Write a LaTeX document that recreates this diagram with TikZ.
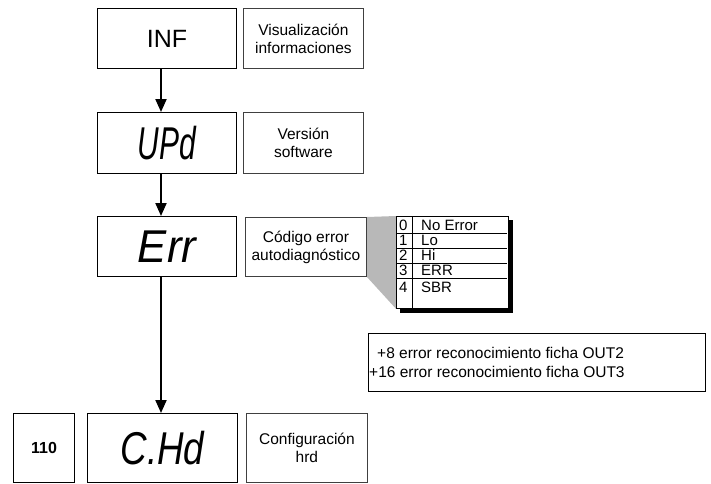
\documentclass[tikz,border=0pt]{standalone}
\usepackage{fontspec}
\usepackage{graphicx}
\setmainfont{Liberation Sans}
\usetikzlibrary{arrows.meta,backgrounds}
\tikzset{
  mainbox/.style={draw=black,line width=1pt,inner sep=0pt,anchor=north west},
  descbox/.style={draw=black!75,line width=0.8pt,inner sep=0pt,anchor=north west,align=center,
     font=\fontsize{15.5}{18}\selectfont},
  segtxt/.style={font=\fontsize{46}{46}\selectfont\itshape},
  arr/.style={line width=2pt,-{Triangle[length=13pt,width=11pt]}},
  tbltxt/.style={font=\fontsize{15}{15}\selectfont,anchor=base west,inner sep=0pt},
}
\begin{document}
\begin{tikzpicture}[x=1pt,y=-1pt]
\useasboundingbox (0,0) rectangle (711,483);
% main column
\node[mainbox,minimum width=139pt,minimum height=60pt] (inf) at (97,8) {};
\node[font=\fontsize{25}{25}\selectfont] (inft) at (inf.center) {INF};
\node[descbox,minimum width=120pt,minimum height=60pt] (vis) at (243,8) {Visualización\\informaciones};

\node[mainbox,minimum width=139pt,minimum height=61pt] (upd) at (97,112) {};
\node[segtxt] (updt) at (upd.center) {\scalebox{0.65}[1]{UPd}};
\node[descbox,minimum width=120pt,minimum height=61pt] (ver) at (243,112) {Versión\\software};

\node[mainbox,minimum width=139pt,minimum height=60pt] (err) at (97,216) {};
\node[segtxt] (errt) at (err.center) {\scalebox{0.95}[1]{Err}};
\node[descbox,minimum width=121pt,minimum height=59pt] (cod) at (245,217) {Código error\\autodiagnóstico};

\node[mainbox,minimum width=61pt,minimum height=69pt,font=\fontsize{16}{16}\selectfont\bfseries] (n110) at (13,413) {110};
\node[mainbox,minimum width=150pt,minimum height=69pt] (chd) at (87,413) {};
\node[segtxt] (chdt) at (chd.center) {\scalebox{0.8}[1]{C.Hd}};
\node[descbox,minimum width=121pt,minimum height=69pt] (conf) at (246,413) {Configuración\\hrd};

% arrows
\draw[arr] ([xshift=64pt]inf.south west) -- ([xshift=64pt]upd.north west);
\draw[arr] ([xshift=64pt]upd.south west) -- ([xshift=64pt]err.north west);
\draw[arr] ([xshift=64pt]err.south west) -- ([xshift=74pt]chd.north west);

% table
\node[draw=black,line width=0.8pt,fill=white,inner sep=0pt,anchor=north west,
      minimum width=112pt,minimum height=92pt] (tbl) at (396,216) {};
\begin{scope}[on background layer]
  \fill[black!28] (cod.north east) -- (tbl.north west) -- (tbl.south west) -- (cod.south east) -- cycle;
  \fill[black] ([shift={(4,4)}]tbl.north west) rectangle ([shift={(4,4)}]tbl.south east);
\end{scope}
\draw[line width=0.7pt] (412,216) -- (412,308);
\foreach \yy in {233,248,263,278} \draw[line width=0.7pt] (397,\yy) -- (507,\yy);
\node[tbltxt] (d0) at (399,230) {0}; \node[tbltxt] (l0) at (421,230) {No Error};
\node[tbltxt] (d1) at (399,245) {1}; \node[tbltxt] (l1) at (421,245) {Lo};
\node[tbltxt] (d2) at (399,260) {2}; \node[tbltxt] (l2) at (421,260) {Hi};
\node[tbltxt] (d3) at (399,275) {3}; \node[tbltxt] (l3) at (421,275) {ERR};
\node[tbltxt] (d4) at (399,292) {4}; \node[tbltxt] (l4) at (421,292) {SBR};

% note
\node[draw=black,line width=0.8pt,inner sep=0pt,anchor=north west,
      minimum width=337pt,minimum height=58pt] (note) at (368,333) {};
\node[anchor=base west,inner sep=0pt,font=\fontsize{15.5}{19}\selectfont] (n1) at (377,358) {+8 error reconocimiento ficha OUT2};
\node[anchor=base west,inner sep=0pt,font=\fontsize{15.5}{19}\selectfont] (n2) at (369,377) {+16 error reconocimiento ficha OUT3};
\end{tikzpicture}
\end{document}
